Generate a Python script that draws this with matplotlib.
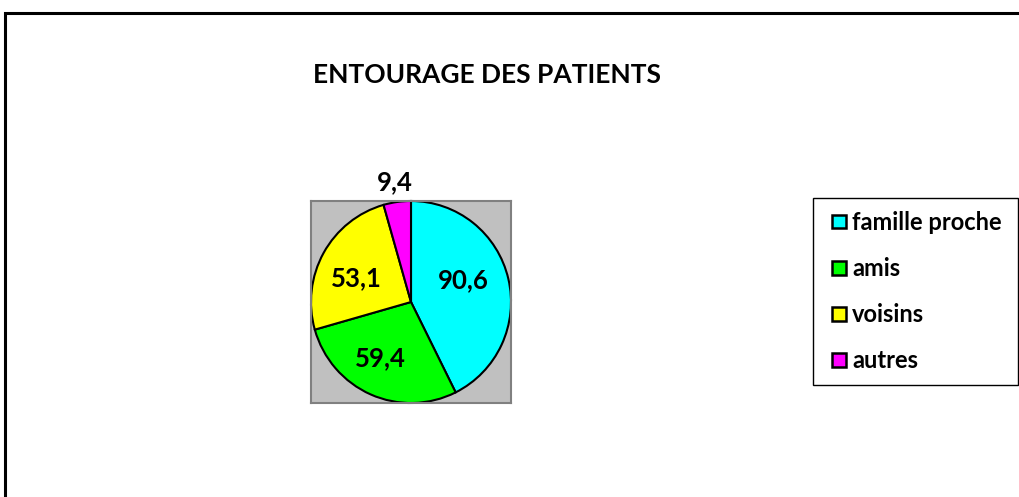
import numpy as np
import matplotlib
matplotlib.use("Agg")
import matplotlib.pyplot as plt
from matplotlib.patches import Rectangle
from matplotlib.legend_handler import HandlerPatch

plt.rcParams['font.family'] = ['Lato', 'DejaVu Sans']
plt.rcParams['font.weight'] = 'bold'

# data
categories = ['famille proche', 'amis', 'voisins', 'autres']
values = [90.6, 59.4, 53.1, 9.4]
colors = ['#00FFFF', '#00FF00', '#FFFF00', '#FF00FF']
label_radius = [0.56, 0.63, 0.59, 1.2]
label_shift = [9, -5, 6, 0]  # degrees, nudge from wedge middle

fig = plt.figure(figsize=(10.2, 4.97), dpi=100)

# outer frame (runs off the bottom/right of the picture)
fig.patches.append(Rectangle((5 / 1020, -0.2), 1.2, 1 - 13 / 497 + 0.2,
                             transform=fig.transFigure, fill=False,
                             edgecolor='black', linewidth=2.2))

fig.text(487 / 1020, 1 - 75 / 497, 'ENTOURAGE DES PATIENTS',
         ha='center', va='center', fontsize=19, fontweight='bold')

ax = fig.add_axes([311 / 1020, 1 - 403 / 497, 200 / 1020, 202 / 497])

wedges, _ = ax.pie(values, colors=colors, startangle=90, counterclock=False,
                   frame=True,
                   wedgeprops=dict(edgecolor='black', linewidth=1.5))
ax.set_facecolor('#C0C0C0')
for s in ax.spines.values():
    s.set_visible(True)
    s.set_edgecolor('#808080')
    s.set_linewidth(1.5)
ax.set_xlim(-1.0, 1.0)
ax.set_ylim(-1.0, 1.0)
ax.set_aspect('auto')
ax.set_xticks([])
ax.set_yticks([])

for w, v, r, d in zip(wedges, values, label_radius, label_shift):
    ang = np.deg2rad((w.theta1 + w.theta2) / 2 + d)
    ax.text(r * np.cos(ang), r * np.sin(ang), f'{v:.1f}'.replace('.', ','),
            ha='center', va='center', fontsize=18.5, fontweight='bold',
            clip_on=False)


def square_handle(legend, orig_handle, xdescent, ydescent, width, height, fontsize):
    size = height
    return Rectangle((-xdescent + width - size, -ydescent), size, size)


leg = fig.legend(wedges, categories,
                 loc='upper left',
                 bbox_to_anchor=(813 / 1020, 1 - 383 / 497, 205 / 1020, 185 / 497),
                 mode='expand', borderaxespad=0,
                 prop=dict(size=17, weight='bold'),
                 handlelength=0.85, handleheight=0.52, handletextpad=0.25,
                 labelspacing=0.98, borderpad=0.55, fancybox=False,
                 edgecolor='black', framealpha=1,
                 handler_map={matplotlib.patches.Wedge: HandlerPatch(patch_func=square_handle)})
leg.get_frame().set_linewidth(1.0)
for h in leg.legend_handles:
    h.set_edgecolor('black')
    h.set_linewidth(1.8)

fig.savefig('out.png', dpi=100)
